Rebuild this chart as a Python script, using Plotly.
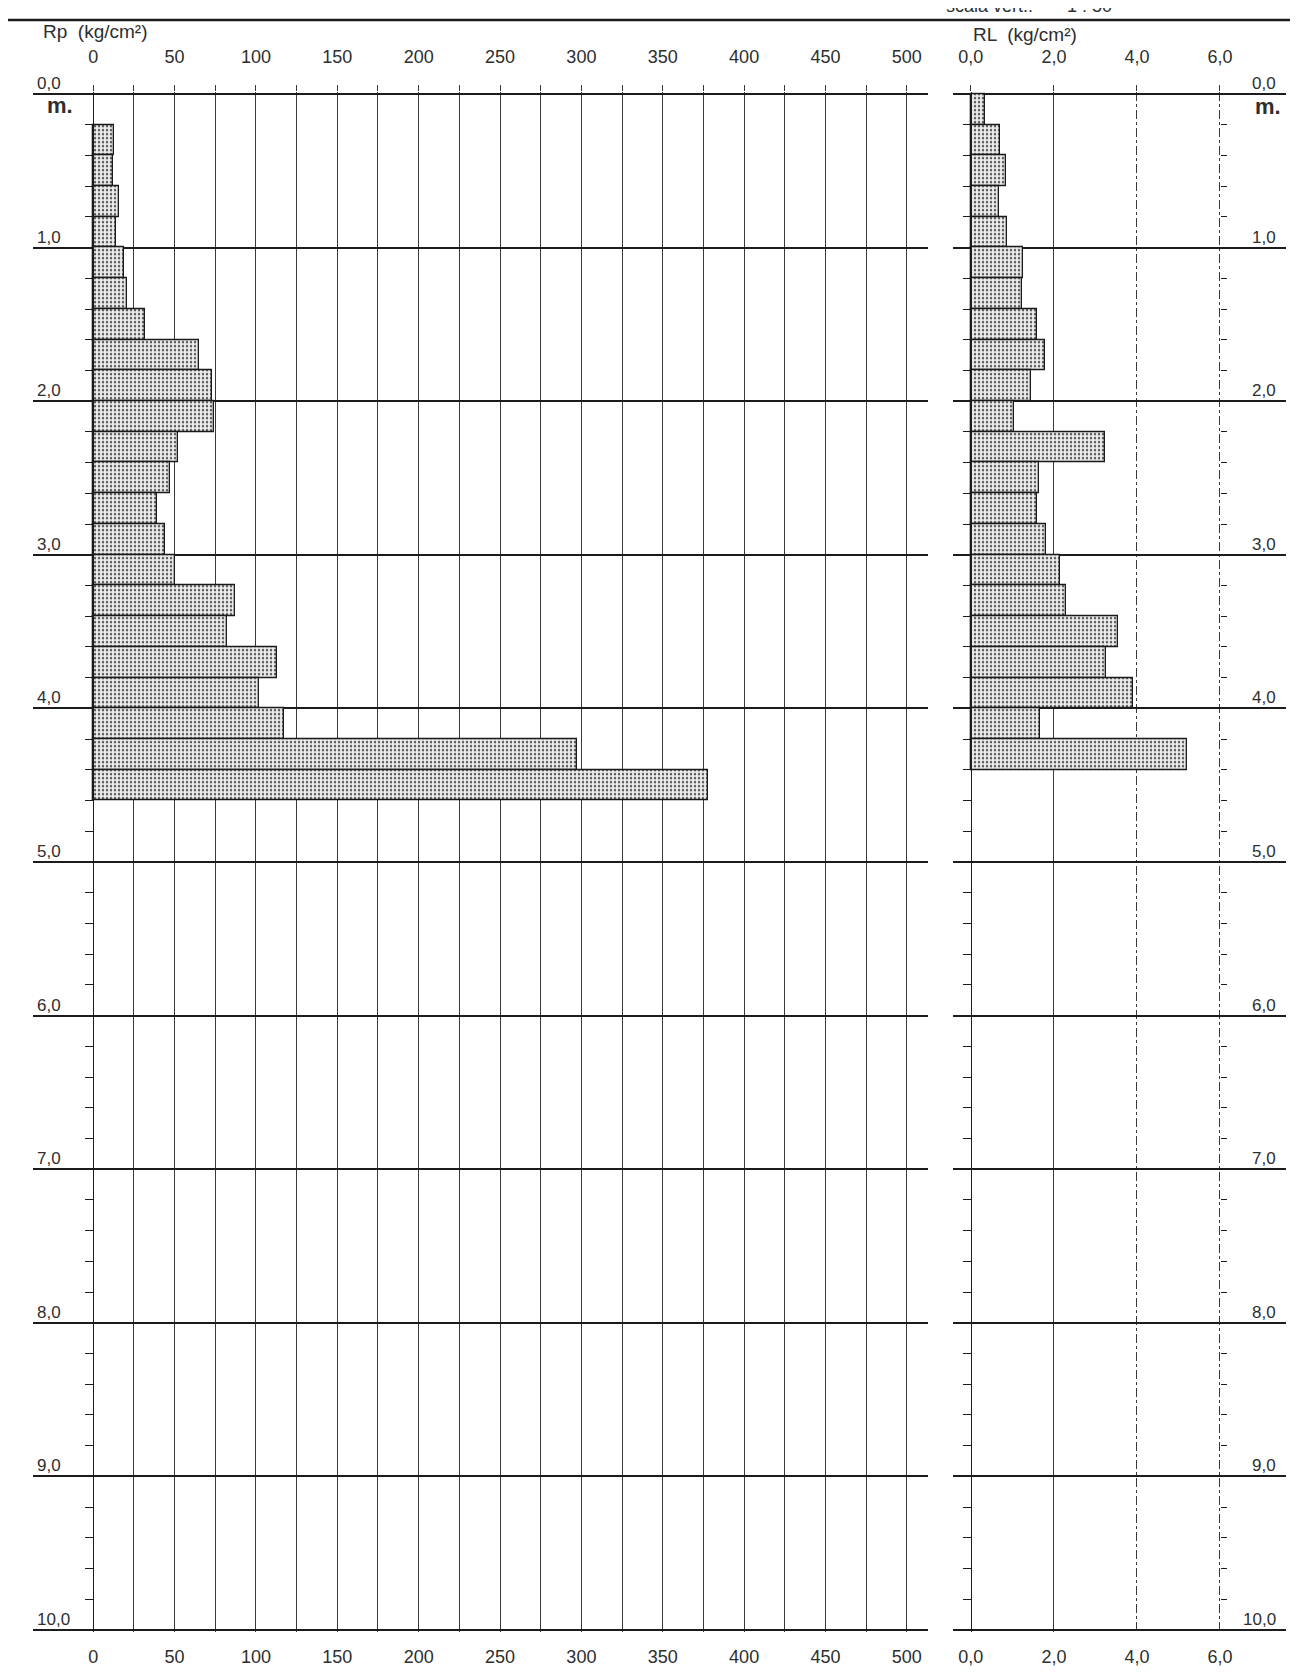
import plotly.graph_objs as go

# cone penetration test, 0.2 m steps
rp_depth = [0.2, 0.4, 0.6, 0.8, 1.0, 1.2, 1.4, 1.6, 1.8, 2.0, 2.2,
            2.4, 2.6, 2.8, 3.0, 3.2, 3.4, 3.6, 3.8, 4.0, 4.2, 4.4]
rp_vals = [13, 12, 16, 14, 19, 21, 32, 65, 73, 74, 52,
           47, 39, 44, 50, 87, 82, 113, 102, 117, 297, 378]

rl_depth = [0.0, 0.2, 0.4, 0.6, 0.8, 1.0, 1.2, 1.4, 1.6, 1.8, 2.0,
            2.2, 2.4, 2.6, 2.8, 3.0, 3.2, 3.4, 3.6, 3.8, 4.0, 4.2]
rl_vals = [0.35, 0.70, 0.85, 0.68, 0.88, 1.25, 1.24, 1.60, 1.78, 1.45, 1.03,
           3.23, 1.63, 1.60, 1.82, 2.15, 2.30, 3.55, 3.25, 3.90, 1.67, 5.20]

depth_ticks = [0, 1, 2, 3, 4, 5, 6, 7, 8, 9, 10]
rp_ticks = [0, 50, 100, 150, 200, 250, 300, 350, 400, 450, 500]
rp_minor = [25, 75, 125, 175, 225, 275, 325, 375, 425, 475]
rl_ticks = [0, 2, 4, 6]
rl_ticktext = ["0,0", "2,0", "4,0", "6,0"]
rl_solid = [2]
rl_dashed = [4, 6]

W, H = 1298, 1674
FONT = "Liberation Sans, Arial, sans-serif"
INK = "#2e2e2e"
GRID = "#37393d"
DEPTHLINE = "#1c1c1c"

def px(x):
    return x / W

def py(y):
    return 1 - y / H

PAD = 0.012
ydom = [py(1622 + PAD * 153.6), py(86 - PAD * 153.6)]
yrange = [10 + PAD, -PAD]

bar_marker = dict(
    color="#e4e4e4",
    line=dict(color="#1a1a1a", width=1.3),
    pattern=dict(shape=".", fgcolor="#555555", bgcolor="#ebebeb",
                 size=4, solidity=0.28, fillmode="replace"),
)

fig = go.Figure()
fig.add_trace(go.Bar(x=rp_vals, y=rp_depth, orientation="h", width=0.2, offset=0,
                     base=0, marker=bar_marker, xaxis="x", yaxis="y",
                     hoverinfo="x+y", showlegend=False))
fig.add_trace(go.Bar(x=rl_vals, y=rl_depth, orientation="h", width=0.2, offset=0,
                     base=0, marker=bar_marker, xaxis="x2", yaxis="y2",
                     hoverinfo="x+y", showlegend=False))
# invisible helpers so the overlay axes get drawn
fig.add_trace(go.Scatter(x=[0], y=[0], xaxis="x3", yaxis="y", mode="markers",
                         marker=dict(opacity=0), hoverinfo="skip", showlegend=False))
fig.add_trace(go.Scatter(x=[0], y=[0], xaxis="x4", yaxis="y3", mode="markers",
                         marker=dict(opacity=0), hoverinfo="skip", showlegend=False))

tickfont = dict(family=FONT, size=18, color=INK)

common_y = dict(domain=ydom, range=yrange, tickvals=depth_ticks,
                showgrid=True, gridcolor=DEPTHLINE, gridwidth=1.8,
                showticklabels=False, ticks="", zeroline=False)
minor_y = dict(dtick=0.2, tick0=0, ticks="outside", ticklen=8,
               tickcolor=DEPTHLINE, tickwidth=1, showgrid=False)

fig.update_layout(
    width=W, height=H,
    margin=dict(l=0, r=0, t=0, b=0),
    paper_bgcolor="white", plot_bgcolor="white",
    font=dict(family=FONT, color=INK),
    bargap=0,
    xaxis=dict(domain=[px(25), px(920)], range=[-37, 513], side="top", anchor="y",
               tickvals=rp_ticks, ticktext=[str(v) for v in rp_ticks],
               ticks="outside", ticklen=6, tickcolor=GRID,
               showgrid=True, gridcolor=GRID, gridwidth=1,
               minor=dict(tickvals=rp_minor, showgrid=True, gridcolor=GRID, gridwidth=1,
                          ticks="outside", ticklen=6, tickcolor=GRID),
               zeroline=False, showline=False, tickfont=tickfont, ticklabelstandoff=15),
    xaxis3=dict(overlaying="x", side="bottom", anchor="y", range=[-37, 513],
                tickvals=rp_ticks, ticktext=[str(v) for v in rp_ticks],
                ticks="", showgrid=False, zeroline=False, showline=False,
                tickfont=tickfont, ticklabelstandoff=12),
    xaxis2=dict(domain=[px(945), px(1278)], range=[-0.43, 7.59], side="top", anchor="y2",
                tickvals=rl_ticks, ticktext=rl_ticktext,
                ticks="outside", ticklen=6, tickcolor=GRID,
                showgrid=False,
                minor=dict(tickvals=rl_solid, showgrid=True, gridcolor=GRID, gridwidth=1, ticks=""),
                zeroline=False, showline=False, tickfont=tickfont, ticklabelstandoff=15),
    xaxis4=dict(overlaying="x2", side="bottom", anchor="y2", range=[-0.43, 7.59],
                tickvals=rl_ticks, ticktext=rl_ticktext,
                ticks="", showgrid=False,
                minor=dict(tickvals=rl_dashed, showgrid=True, gridcolor=GRID, gridwidth=1,
                           griddash="dashdot", ticks=""),
                zeroline=False, showline=False,
                tickfont=tickfont, ticklabelstandoff=12),
    yaxis=dict(anchor="free", position=px(85), showline=True, linecolor=DEPTHLINE,
               linewidth=1.2, minor=minor_y, **common_y),
    yaxis2=dict(anchor="free", position=px(963), showline=True, linecolor=DEPTHLINE,
                linewidth=1.2, minor=minor_y, **common_y),
    yaxis3=dict(overlaying="y2", anchor="free", position=px(1212), side="right",
                domain=ydom, range=yrange, showgrid=False, showline=False,
                showticklabels=False, ticks="", zeroline=False,
                minor=dict(dtick=0.2, tick0=0, ticks="outside", ticklen=6,
                           tickcolor=DEPTHLINE, tickwidth=1)),
)

anns = []
for d in depth_ticks:
    lab = f"{d},0"
    anns.append(dict(x=px(27), xref="paper", y=d, yref="y", text=lab, showarrow=False,
                     xanchor="left", yanchor="bottom", yshift=-1,
                     font=dict(size=17, color=INK)))
    anns.append(dict(x=px(1270), xref="paper", y=d, yref="y2", text=lab, showarrow=False,
                     xanchor="right", yanchor="bottom", yshift=-1,
                     font=dict(size=17, color=INK)))
anns.append(dict(x=px(52), xref="paper", y=0, yref="y", text="<b>m.</b>", showarrow=False,
                 xanchor="center", yanchor="middle", yshift=-12, font=dict(size=22, color=INK)))
anns.append(dict(x=px(1260), xref="paper", y=0, yref="y2", text="<b>m.</b>", showarrow=False,
                 xanchor="center", yanchor="middle", yshift=-13, font=dict(size=22, color=INK)))
anns.append(dict(x=px(33), xref="paper", y=py(23), yref="paper", text="Rp  (kg/cm²)",
                 showarrow=False, xanchor="left", yanchor="middle",
                 font=dict(size=19, color=INK)))
anns.append(dict(x=px(963), xref="paper", y=py(27), yref="paper", text="RL  (kg/cm²)",
                 showarrow=False, xanchor="left", yanchor="middle",
                 font=dict(size=19, color=INK)))
anns.append(dict(x=px(1027), xref="paper", y=1, yref="paper", text="scala vert.:",
                 showarrow=False, xanchor="right", yanchor="bottom", yshift=-10,
                 font=dict(size=18, color=INK)))
anns.append(dict(x=px(1057), xref="paper", y=1, yref="paper", text="1 : 50",
                 showarrow=False, xanchor="left", yanchor="bottom", yshift=-10,
                 font=dict(size=18, color=INK)))
fig.update_layout(annotations=anns)

fig.add_shape(type="line", xref="paper", yref="paper", x0=0, x1=1,
              y0=py(12), y1=py(12), line=dict(color=DEPTHLINE, width=2.5))

fig.write_html("out.html")
